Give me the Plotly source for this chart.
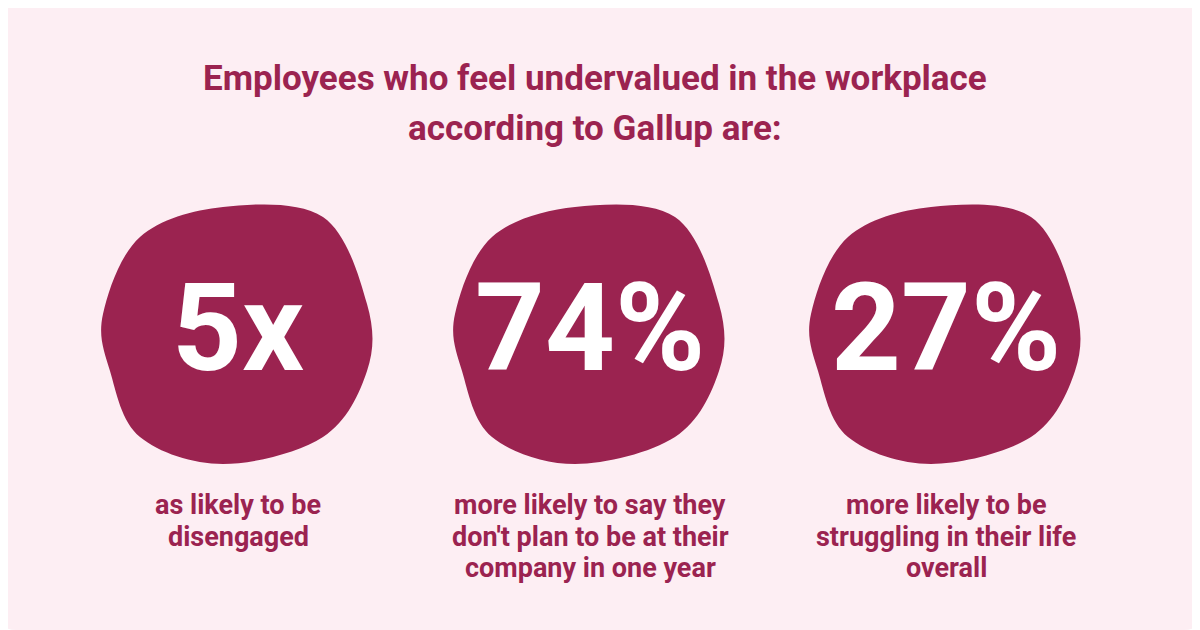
import plotly.graph_objects as go

title_lines = ["Employees who feel undervalued in the workplace", "according to Gallup are:"]
stats = ["5x", "74%", "27%"]
captions = [
    ["as likely to be", "disengaged"],
    ["more likely to say they", "don't plan to be at their", "company in one year"],
    ["more likely to be", "struggling in their life", "overall"],
]
centers_x = [238, 590, 946]

MAROON = "#9b2350"
BG = "#fdeef3"

blob = [(-135, -20), (-98, -97), (-15, -127), (85, -117), (129, -30),
        (129, 37), (85, 103), (-15, 130), (-98, 103), (-128, 37)]

def blob_path(cx, cy, pts):
    P = [(cx + x, cy + y) for x, y in pts]
    n = len(P)
    d = f"M {P[0][0]},{P[0][1]} "
    for i in range(n):
        p0, p1, p2, p3 = P[i - 1], P[i], P[(i + 1) % n], P[(i + 2) % n]
        c1 = (p1[0] + (p2[0] - p0[0]) / 6, p1[1] + (p2[1] - p0[1]) / 6)
        c2 = (p2[0] - (p3[0] - p1[0]) / 6, p2[1] - (p3[1] - p1[1]) / 6)
        d += f"C {c1[0]},{c1[1]} {c2[0]},{c2[1]} {p2[0]},{p2[1]} "
    return d + "Z"

fig = go.Figure()
shapes = [dict(type="path", xref="x", yref="y",
               path="M 16,0 L 1184,0 Q 1200,0 1200,16 L 1200,614 Q 1200,630 1184,630 L 16,630 Q 0,630 0,614 L 0,16 Q 0,0 16,0 Z",
               fillcolor=BG, line=dict(width=0), layer="below")]
for cx in centers_x:
    shapes.append(dict(type="path", xref="x", yref="y", path=blob_path(cx, 334, blob),
                       fillcolor=MAROON, line=dict(width=0), layer="below"))

ann = []
for i, t in enumerate(title_lines):
    ann.append(dict(x=595, y=78 + 50 * i, text=t, showarrow=False, xref="x", yref="y",
                    font=dict(family="Roboto", size=35, color=MAROON, weight="bold")))
for cx, s, c in zip(centers_x, stats, captions):
    ann.append(dict(x=cx, y=328, text=s, showarrow=False, xref="x", yref="y",
                    font=dict(family="Roboto", size=122, color="white", weight="bold")))
    for j, line in enumerate(c):
        ann.append(dict(x=cx, y=505 + 31.5 * j, text=line, showarrow=False, xref="x", yref="y",
                        font=dict(family="Roboto", size=27, color=MAROON, weight="bold")))

fig.update_layout(width=1200, height=630, margin=dict(l=0, r=0, t=0, b=0),
                  paper_bgcolor="white", plot_bgcolor="white",
                  xaxis=dict(range=[8, 1208], visible=False, fixedrange=True),
                  yaxis=dict(range=[638, 8], visible=False, fixedrange=True),
                  shapes=shapes, annotations=ann, showlegend=False)
fig.write_html("out.html")
